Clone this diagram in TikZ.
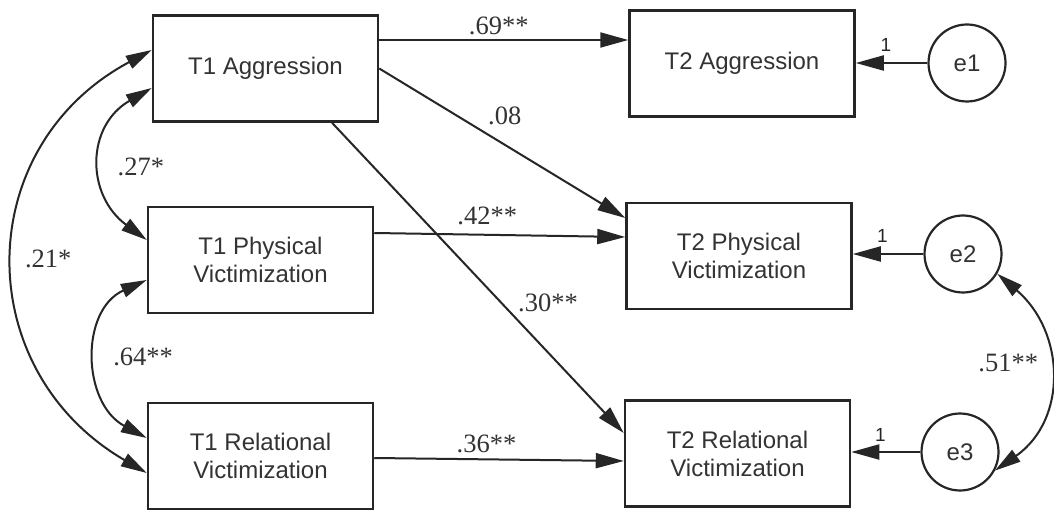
\documentclass[tikz,border=0pt]{standalone}
\usepackage{fontspec}
\setmainfont{Liberation Serif}
\newfontfamily\arialfam{Liberation Sans}
\usetikzlibrary{arrows.meta}
\newcommand\mysans{\arialfam\fontsize{24}{28}\selectfont}
\newcommand\myserif{\rmfamily\fontsize{26.5}{28}\selectfont}
\newcommand\mysmall{\arialfam\fontsize{19}{22}\selectfont}
\begin{document}
\begin{tikzpicture}[x=1pt,y=-1pt,
  box/.style={draw=black!85, line width=2.5pt, minimum width=225pt, minimum height=106pt, align=center, font=\mysans, text=black!80, inner sep=0pt},
  err/.style={circle, draw=black!85, line width=2.2pt, minimum size=77pt, font=\mysans, text=black!80, inner sep=0pt},
  arr/.style={-{Triangle[length=28pt,width=15pt]}, line width=2pt, draw=black!85},
  darr/.style={{Triangle[length=26pt,width=14pt]}-{Triangle[length=26pt,width=14pt]}, line width=2pt, draw=black!85},
  coef/.style={font=\myserif, text=black!80, inner sep=1pt},
  one/.style={font=\mysmall, text=black!85, inner sep=1pt}]
\useasboundingbox (0,0) rectangle (1054,510);
\fill[white] (0,0) rectangle (1054,510);
% nodes
\node[box] (A1) at (265.5,68.5) {T1 Aggression};
\node[box] (P1) at (260.5,260) {T1 Physical\\Victimization};
\node[box] (R1) at (260.5,456) {T1 Relational\\Victimization};
\node[box] (A2) at (742,63.5) {T2 Aggression};
\node[box] (P2) at (739,256) {T2 Physical\\Victimization};
\node[box] (R2) at (737.5,453.5) {T2 Relational\\Victimization};
\node[err] (e1) at (967,63) {e1};
\node[err] (e2) at (963,254) {e2};
\node[err] (e3) at (960,452) {e3};
% paths
\draw[arr] ([yshift=28.5pt]A1.east) -- ([yshift=23.5pt]A2.west) node[coef,pos=0.48,above=3pt] {.69**};
\draw[arr] (A1.east) -- ([yshift=38pt]P2.west) node[coef,pos=0.51,above=18pt] {.08};
\draw[arr] ([xshift=66.5pt]A1.south) -- ([yshift=20.5pt]R2.west) node[coef,pos=0.58,right=15pt] {.30**};
\draw[arr] ([yshift=27pt]P1.east) -- ([yshift=19pt]P2.west) node[coef,pos=0.45,above=8pt] {.42**};
\draw[arr] ([yshift=-2pt]R1.east) -- ([yshift=-7.5pt]R2.west) node[coef,pos=0.45,above=4pt] {.36**};
% error arrows
\draw[arr] (e1.west) -- (e1.west -| A2.east) node[one,pos=0.58,above=9pt] {1};
\draw[arr] (e2.west) -- (e2.west -| P2.east) node[one,pos=0.58,above=9pt] {1};
\draw[arr] (e3.west) -- (e3.west -| R2.east) node[one,pos=0.58,above=9pt] {1};
% covariances
\draw[darr] ([yshift=-19.5pt]A1.west) .. controls +(-66,38) and +(-61,-45) .. ([yshift=20pt]P1.west) node[coef,pos=0.5,right=14pt,yshift=-6pt] {.27*};
\draw[darr] ([yshift=-20pt]P1.west) .. controls +(-67,30) and +(-65,-35) .. ([yshift=18pt]R1.west) node[coef,pos=0.5,right=14pt] {.64**};
\draw[darr] ([yshift=18.5pt]A1.west) .. controls +(-181,97) and +(-177,-103) .. ([yshift=-17pt]R1.west) node[coef,pos=0.5,right=8pt] {.21*};
\draw[darr] (e2.-30) .. controls +(68,58) and +(73,-51) .. (e3.-28) node[coef,pos=0.5,left=9pt,yshift=12pt] {.51**};
\end{tikzpicture}
\end{document}
